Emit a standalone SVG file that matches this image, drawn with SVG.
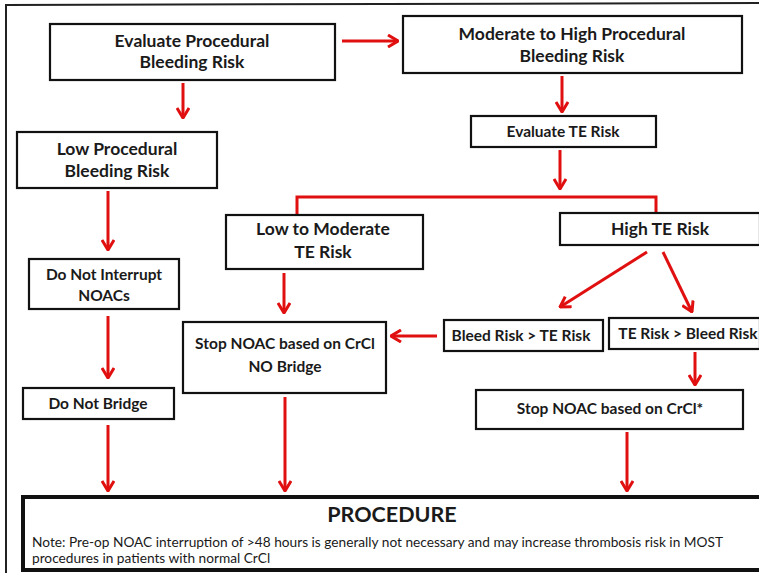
<svg xmlns="http://www.w3.org/2000/svg" width="759" height="573" viewBox="0 0 759 573">
<style>
.box{fill:#fff;stroke:#111;stroke-width:2.2}
.t{font-family:Lato,"Liberation Sans",sans-serif;font-weight:bold;font-size:17.5px;fill:#1a1a1a;text-anchor:middle}
.s{font-size:15.5px}
.c{fill:none;stroke:#e01010;stroke-width:3}
.note{font-family:Lato,"Liberation Sans",sans-serif;font-size:13.7px;fill:#1a1a1a}
</style>
<defs>
<marker id="ah" viewBox="0 0 12 14" refX="11" refY="7" markerWidth="12" markerHeight="14" markerUnits="userSpaceOnUse" orient="auto">
<path d="M1 1 L11 7 L1 13" fill="none" stroke="#e01010" stroke-width="3"/>
</marker>
</defs>
<rect width="759" height="573" fill="#fff"/>
<path d="M6 573 L6 5 L759 3" fill="none" stroke="#222" stroke-width="2"/>
<g id="connectors">
<path class="c" d="M342 41 L398 41" marker-end="url(#ah)"/>
<path class="c" d="M183 83 L183 118" marker-end="url(#ah)"/>
<path class="c" d="M562 76 L562 112" marker-end="url(#ah)"/>
<path class="c" d="M560 150 L560 189" marker-end="url(#ah)"/>
<path class="c" d="M297 215 L297 197 L656 197 L656 213"/>
<path class="c" d="M108 191 L108 250" marker-end="url(#ah)"/>
<path class="c" d="M108 316 L108 378" marker-end="url(#ah)"/>
<path class="c" d="M108 425 L108 491" marker-end="url(#ah)"/>
<path class="c" d="M284 273 L284 313" marker-end="url(#ah)"/>
<path class="c" d="M285 397 L285 491" marker-end="url(#ah)"/>
<path class="c" d="M647 252 L560 307" marker-end="url(#ah)"/>
<path class="c" d="M663 252 L692 312" marker-end="url(#ah)"/>
<path class="c" d="M437 336 L391 336" marker-end="url(#ah)"/>
<path class="c" d="M695 352 L695 385" marker-end="url(#ah)"/>
<path class="c" d="M627 432 L627 491" marker-end="url(#ah)"/>
</g>
<g id="n-eval-bleed"><rect class="box" x="50" y="24" width="285" height="56"/><text class="t" x="192" y="47">Evaluate Procedural</text><text class="t" x="192" y="68">Bleeding Risk</text></g>
<g id="n-mod-high"><rect class="box" x="403" y="16" width="339" height="57"/><text class="t" x="572" y="40">Moderate to High Procedural</text><text class="t" x="572" y="62">Bleeding Risk</text></g>
<g id="n-eval-te"><rect class="box" x="471" y="116" width="185" height="31"/><text class="t s" x="563" y="137">Evaluate TE Risk</text></g>
<g id="n-low-bleed"><rect class="box" x="17" y="132" width="200" height="56"/><text class="t" x="117" y="155">Low Procedural</text><text class="t" x="117" y="177">Bleeding Risk</text></g>
<g id="n-no-interrupt"><rect class="box" x="29" y="259" width="150" height="50"/><text class="t s" x="104" y="280">Do Not Interrupt</text><text class="t s" x="104" y="301">NOACs</text></g>
<g id="n-no-bridge"><rect class="box" x="23" y="388" width="151" height="31"/><text class="t s" x="98" y="409">Do Not Bridge</text></g>
<g id="n-low-mod-te"><rect class="box" x="226" y="215" width="197" height="54"/><text class="t" x="323" y="235">Low to Moderate</text><text class="t" x="323" y="258">TE Risk</text></g>
<g id="n-stop-nobridge"><rect class="box" x="183" y="322" width="203" height="71"/><text class="t s" x="285" y="349">Stop NOAC based on CrCl</text><text class="t s" x="285" y="372">NO Bridge</text></g>
<g id="n-high-te"><rect class="box" x="560" y="213" width="200" height="32"/><text class="t" x="660" y="235">High TE Risk</text></g>
<g id="n-bleed-gt-te"><rect class="box" x="444" y="320" width="159" height="31"/><text class="t s" x="521" y="341">Bleed Risk &gt; TE Risk</text></g>
<g id="n-te-gt-bleed"><rect class="box" x="609" y="318" width="151" height="31"/><text class="t s" x="688" y="339">TE Risk &gt; Bleed Risk</text></g>
<g id="n-stop-crcl"><rect class="box" x="476" y="390" width="267" height="39"/><text class="t s" x="610" y="414">Stop NOAC based on CrCl*</text></g>
<g id="n-procedure"><rect x="23" y="497" width="740" height="73" fill="#fff" stroke="#111" stroke-width="4"/><text class="t" x="392" y="522" style="font-size:21.5px">PROCEDURE</text><text class="note" x="32" y="547">Note:  Pre-op NOAC interruption of &gt;48 hours is generally not necessary and may increase thrombosis risk in MOST</text><text class="note" x="32" y="563">procedures in patients with normal CrCl</text></g>
</svg>
